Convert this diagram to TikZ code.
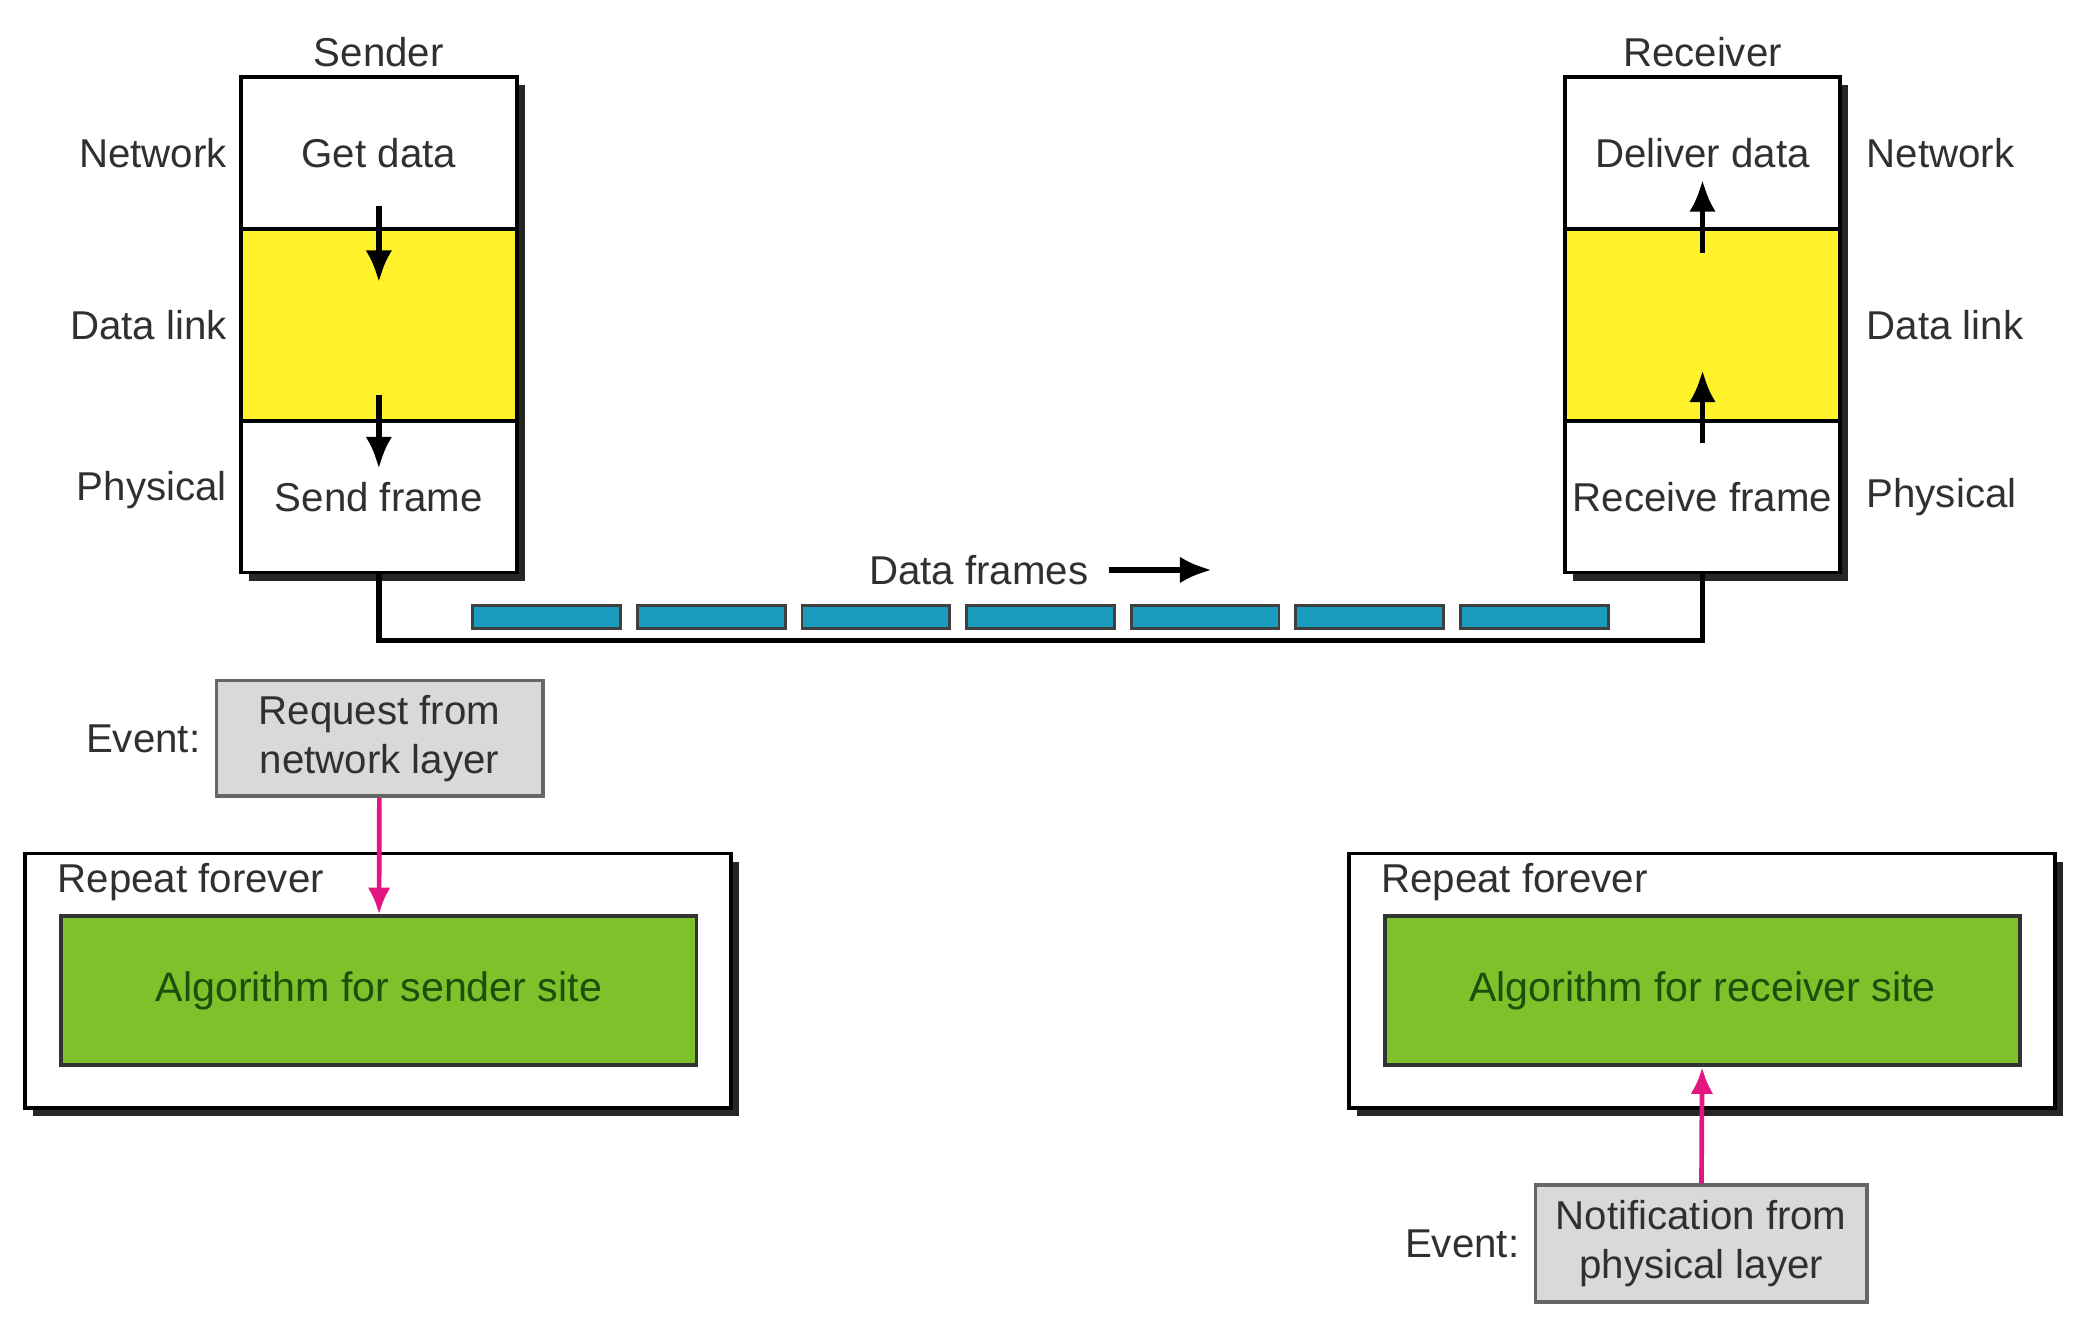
\documentclass[tikz,border=0pt]{standalone}
\usepackage{fontspec}
\setmainfont{Liberation Sans}
\usepackage{tikz}
\usetikzlibrary{arrows.meta,calc,positioning,shadows}
\definecolor{LayerYellow}{HTML}{FFF22B}
\definecolor{FrameBlue}{HTML}{1A9CBE}
\definecolor{AlgoGreen}{HTML}{7DC12B}
\definecolor{AlgoInk}{HTML}{1F4D0C}
\definecolor{EventGray}{HTML}{D9D9D9}
\definecolor{EventPink}{HTML}{E4157F}
\definecolor{LabelInk}{HTML}{303030}
\tikzset{
  >={Latex[length=2.4mm,width=2mm]},
  boxshadow/.style={drop shadow={shadow xshift=0.6mm,shadow yshift=-0.6mm,opacity=1,fill=black!85}},
  layerbox/.style={draw=black,fill=white,line width=0.8pt,minimum width=20.7mm,
    minimum height=11.4mm,outer sep=0pt,inner sep=0pt,
    font=\fontsize{8.6}{10.4}\selectfont,text=LabelInk,boxshadow},
  linkbox/.style={layerbox,fill=LayerYellow,minimum height=14.4mm},
  sidelabel/.style={font=\fontsize{8.6}{10.4}\selectfont,text=LabelInk,inner sep=2pt},
  layerarrow/.style={->,line width=1.2pt},
  framebox/.style={draw=black!75,fill=FrameBlue,line width=0.6pt,minimum width=11.1mm,
    minimum height=1.7mm,inner sep=0pt},
  wire/.style={line width=1.2pt},
  loopbox/.style={draw=black,fill=white,line width=0.8pt,minimum width=53mm,
    minimum height=19.1mm,boxshadow},
  algobox/.style={draw=black!80,fill=AlgoGreen,line width=0.8pt,minimum width=47.7mm,
    minimum height=11.2mm,font=\fontsize{8.8}{10.6}\selectfont,text=AlgoInk},
  eventbox/.style={draw=black!60,fill=EventGray,line width=0.8pt,minimum width=24.5mm,
    minimum height=8.7mm,align=center,font=\fontsize{8.6}{10.4}\selectfont,
    text=LabelInk,inner sep=1pt},
  eventarrow/.style={->,>={Latex[length=2mm,width=1.7mm]},draw=EventPink,line width=1pt}
}
\begin{document}
\begin{tikzpicture}[node distance=1mm]
  \useasboundingbox (0,0) rectangle (15.68,-9.96);

  % sender stack
  \node[layerbox] (snet) at (2.845,-1.15) {Get data};
  \node[linkbox,below=0pt of snet] (sdl) {};
  \node[layerbox,below=0pt of sdl] (sphy) {Send frame};
  \node[sidelabel,above=0pt of snet] (sender) {Sender};
  \node[sidelabel,left=0.3mm of snet] (snetlbl) {Network};
  \node[sidelabel,left=0.3mm of sdl] (sdllbl) {Data link};
  \node[sidelabel,left=0.3mm of sphy,yshift=0.5mm] (sphylbl) {Physical};
  \draw[layerarrow] ([yshift=1.7mm]snet.south) -- ([yshift=-4mm]sdl.north);
  \draw[layerarrow] ([yshift=1.9mm]sdl.south) -- ([yshift=-3.6mm]sphy.north);

  % receiver stack
  \node[layerbox] (rnet) at (12.785,-1.15) {Deliver data};
  \node[linkbox,below=0pt of rnet] (rdl) {};
  \node[layerbox,below=0pt of rdl] (rphy) {Receive frame};
  \node[sidelabel,above=0pt of rnet] (receiver) {Receiver};
  \node[sidelabel,right=1.2mm of rnet] (rnetlbl) {Network};
  \node[sidelabel,right=1.2mm of rdl] (rdllbl) {Data link};
  \node[sidelabel,right=1.2mm of rphy] (rphylbl) {Physical};
  \draw[layerarrow] ([yshift=-1.7mm]rdl.south) -- ([yshift=3.8mm]rdl.south);
  \draw[layerarrow] ([yshift=-1.8mm]rdl.north) -- ([yshift=3.7mm]rdl.north);

  % the link and the frames on it
  \draw[wire] (sphy.south) -- ++(0,-0.51) -| (rphy.south);
  \foreach \i in {0,...,6}
    \node[framebox] (frame\i) at (4.105+1.236*\i,-4.635) {};
  \node[sidelabel] (dframes) at (7.35,-4.28) {Data frames};
  \coordinate (dfend) at ($(dframes.east)+(0.85,0)$);
  \draw[layerarrow] ([xshift=0.8mm]dframes.east) -- (dfend);

  % sender algorithm
  \node[loopbox] (sloop) at (2.84,-7.365) {};
  \node[sidelabel,anchor=north west] (srepeat) at ([xshift=1.8mm,yshift=-0.1mm]sloop.north west) {Repeat forever};
  \node[algobox] (salg) at (2.845,-7.44) {Algorithm for sender site};
  \node[eventbox] (sreq) at (2.85,-5.545) {Request from\\network layer};
  \node[sidelabel,left=0.3mm of sreq] (sevent) {Event:};
  \draw[eventarrow] (sreq) -- (salg);

  % receiver algorithm
  \node[loopbox] (rloop) at (12.78,-7.365) {};
  \node[sidelabel,anchor=north west] (rrepeat) at ([xshift=1.8mm,yshift=-0.1mm]rloop.north west) {Repeat forever};
  \node[algobox] (ralg) at (12.785,-7.44) {Algorithm for receiver site};
  \node[eventbox,minimum width=24.9mm,minimum height=8.8mm] (rnot) at (12.775,-9.34) {Notification from\\physical layer};
  \node[sidelabel,left=0.3mm of rnot] (revent) {Event:};
  \draw[eventarrow] (rnot) -- (ralg);
\end{tikzpicture}
\end{document}
